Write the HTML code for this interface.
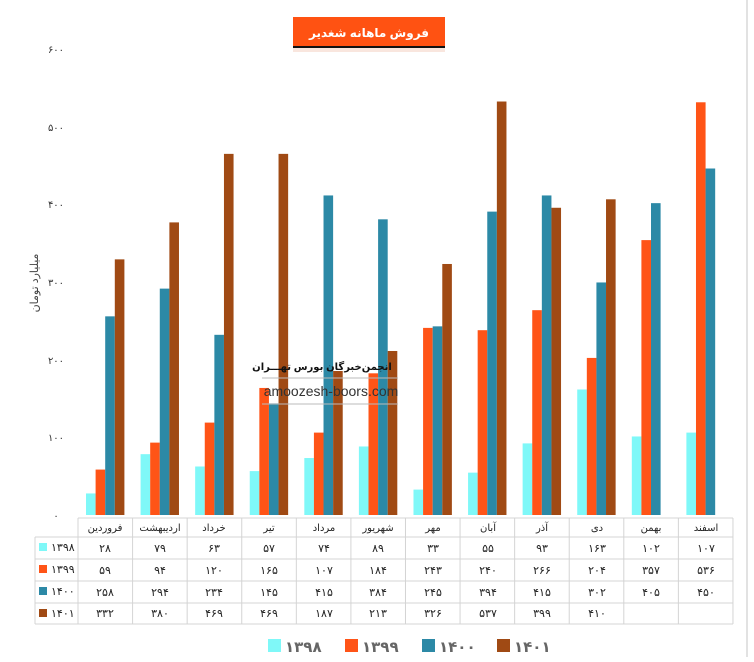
<!DOCTYPE html>
<html><head><meta charset="utf-8"><style>
body{margin:0;background:#fff;}
svg text{font-family:"Liberation Sans","Noto Sans CJK SC","DejaVu Sans",sans-serif;}
</style></head><body>
<svg id="s" width="754" height="657" viewBox="0 0 754 657" xmlns="http://www.w3.org/2000/svg">
<rect width="754" height="657" fill="#fff"/>
<line x1="747" y1="0" x2="747" y2="657" stroke="#d8d8d8" stroke-width="1.5"/>
<rect x="293" y="17" width="152" height="30" fill="#FF5212"/>
<rect x="293" y="46" width="152" height="2" fill="#111"/>
<rect x="293" y="48" width="152" height="4" fill="#f5d6c8" opacity="0.6"/>
<text x="369" y="37" text-anchor="middle" font-size="12" font-weight="bold" fill="#fff">فروش ماهانه شغدیر</text>
<g font-size="10" fill="#333" text-anchor="middle">
<text x="56" y="519">۰</text>
<text x="56" y="441">۱۰۰</text>
<text x="56" y="364">۲۰۰</text>
<text x="56" y="286">۳۰۰</text>
<text x="56" y="208">۴۰۰</text>
<text x="56" y="131">۵۰۰</text>
<text x="56" y="53">۶۰۰</text>
</g>
<text transform="translate(38,283) rotate(-90)" text-anchor="middle" font-size="11" fill="#444">میلیارد تومان</text>
<g id="bars"></g>
<g stroke="#d4d4d4" stroke-width="1" fill="none">
<line x1="78" y1="518" x2="733" y2="518"/>
<line x1="35" y1="537" x2="733" y2="537"/>
<line x1="35" y1="559" x2="733" y2="559"/>
<line x1="35" y1="581" x2="733" y2="581"/>
<line x1="35" y1="603" x2="733" y2="603"/>
<line x1="35" y1="624" x2="733" y2="624"/>
<line x1="35" y1="537" x2="35" y2="624"/>
<g id="vl"></g>
</g>
<g font-size="10" fill="#222" text-anchor="middle">
<text x="105" y="531">فروردین</text><text x="160" y="531">اردیبهشت</text><text x="214" y="531">خرداد</text><text x="269" y="531">تیر</text><text x="324" y="531">مرداد</text><text x="378" y="531">شهریور</text><text x="433" y="531">مهر</text><text x="488" y="531">آبان</text><text x="542" y="531">آذر</text><text x="597" y="531">دی</text><text x="651" y="531">بهمن</text><text x="706" y="531">اسفند</text>
</g>
<g font-size="11" fill="#222" text-anchor="middle">
<text x="105" y="552">۲۸</text><text x="160" y="552">۷۹</text><text x="214" y="552">۶۳</text><text x="269" y="552">۵۷</text><text x="324" y="552">۷۴</text><text x="378" y="552">۸۹</text><text x="433" y="552">۳۳</text><text x="488" y="552">۵۵</text><text x="542" y="552">۹۳</text><text x="597" y="552">۱۶۳</text><text x="651" y="552">۱۰۲</text><text x="706" y="552">۱۰۷</text>
<text x="105" y="574">۵۹</text><text x="160" y="574">۹۴</text><text x="214" y="574">۱۲۰</text><text x="269" y="574">۱۶۵</text><text x="324" y="574">۱۰۷</text><text x="378" y="574">۱۸۴</text><text x="433" y="574">۲۴۳</text><text x="488" y="574">۲۴۰</text><text x="542" y="574">۲۶۶</text><text x="597" y="574">۲۰۴</text><text x="651" y="574">۳۵۷</text><text x="706" y="574">۵۳۶</text>
<text x="105" y="596">۲۵۸</text><text x="160" y="596">۲۹۴</text><text x="214" y="596">۲۳۴</text><text x="269" y="596">۱۴۵</text><text x="324" y="596">۴۱۵</text><text x="378" y="596">۳۸۴</text><text x="433" y="596">۲۴۵</text><text x="488" y="596">۳۹۴</text><text x="542" y="596">۴۱۵</text><text x="597" y="596">۳۰۲</text><text x="651" y="596">۴۰۵</text><text x="706" y="596">۴۵۰</text>
<text x="105" y="617">۳۳۲</text><text x="160" y="617">۳۸۰</text><text x="214" y="617">۴۶۹</text><text x="269" y="617">۴۶۹</text><text x="324" y="617">۱۸۷</text><text x="378" y="617">۲۱۳</text><text x="433" y="617">۳۲۶</text><text x="488" y="617">۵۳۷</text><text x="542" y="617">۳۹۹</text><text x="597" y="617">۴۱۰</text>
</g>
<g font-size="11" fill="#222">
<rect x="39" y="543" width="8" height="8" fill="#7FF8F8"/><text x="51" y="551">۱۳۹۸</text>
<rect x="39" y="565" width="8" height="8" fill="#FF5417"/><text x="51" y="573">۱۳۹۹</text>
<rect x="39" y="587" width="8" height="8" fill="#2C89A6"/><text x="51" y="595">۱۴۰۰</text>
<rect x="39" y="609" width="8" height="8" fill="#A04A14"/><text x="51" y="617">۱۴۰۱</text>
</g>
<g font-size="15" font-weight="bold" fill="#666">
<rect x="268" y="639" width="13" height="13" fill="#7FF8F8"/><text x="285" y="652">۱۳۹۸</text>
<rect x="345" y="639" width="13" height="13" fill="#FF5417"/><text x="362" y="652">۱۳۹۹</text>
<rect x="422" y="639" width="13" height="13" fill="#2C89A6"/><text x="439" y="652">۱۴۰۰</text>
<rect x="497" y="639" width="13" height="13" fill="#A04A14"/><text x="514" y="652">۱۴۰۱</text>
</g>
<text x="322" y="370" text-anchor="middle" font-size="10" font-weight="bold" fill="#111">انجمن‌خبرگان بورس تهـــران</text>
<line x1="262" y1="378" x2="398" y2="378" stroke="#bbb"/>
<line x1="262" y1="404" x2="398" y2="404" stroke="#bbb"/>
<text x="331" y="396" text-anchor="middle" font-size="14" fill="#333">amoozesh-boors.com</text>
</svg>
<script>
var d=[[28,79,63,57,74,89,33,55,93,163,102,107],[59,94,120,165,107,184,243,240,266,204,357,536],[258,294,234,145,415,384,245,394,415,302,405,450],[332,380,469,469,187,213,326,537,399,410]];
var c=["#7FF8F8","#FF5417","#2C89A6","#A04A14"];
var g=document.getElementById("bars"),v=document.getElementById("vl"),h="";
for(var i=0;i<12;i++){var x0=78+i*54.58;
for(var k=0;k<4;k++){var val=d[k][i];if(val==null)continue;var hh=val*0.77;
h+='<rect x="'+(x0+8+k*9.6)+'" y="'+(515-hh)+'" width="9.6" height="'+hh+'" fill="'+c[k]+'"/>';}}
g.innerHTML=h;var s="";
for(var i=0;i<=12;i++){var x=78+i*54.58;s+='<line x1="'+x+'" y1="518" x2="'+x+'" y2="624"/>';}
v.innerHTML=s;
</script>
</body></html>
